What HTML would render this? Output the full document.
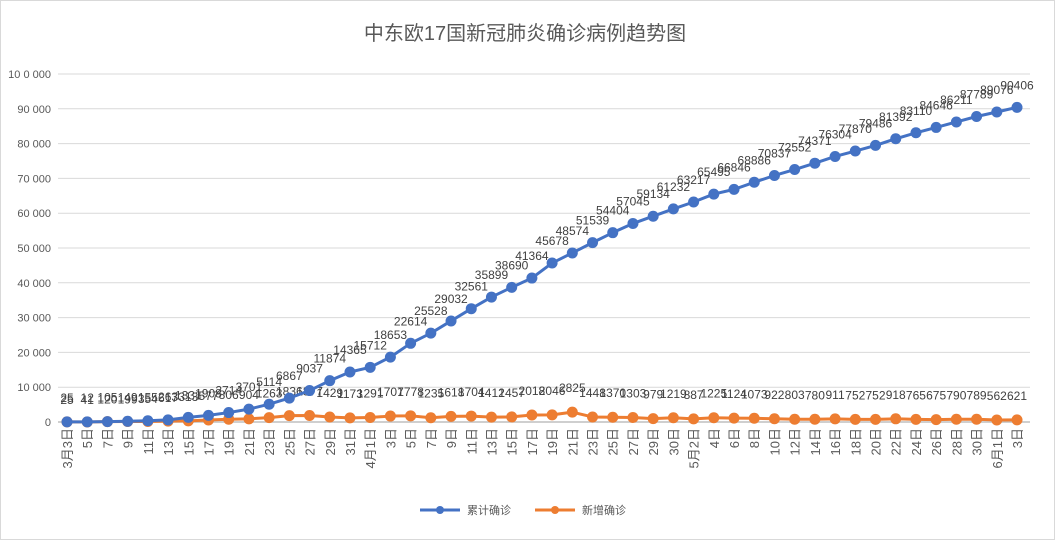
<!DOCTYPE html>
<html><head><meta charset="utf-8"><style>
body{margin:0;background:#fff;}
svg{display:block;font-family:"Liberation Sans","Noto Sans CJK SC",sans-serif;}
</style></head><body>
<svg id="c" width="1056" height="540" viewBox="0 0 1056 540">
<rect x="0.5" y="0.5" width="1054" height="539" fill="#fff" stroke="#d9d9d9"/>
<text x="525" y="40" text-anchor="middle" font-size="20" fill="#595959">中东欧17国新冠肺炎确诊病例趋势图</text>
<g id="grid"></g><g id="ylab"></g><g id="xlab"></g><g id="series"></g>
<g>
<line x1="420" y1="510" x2="460" y2="510" stroke="#4472c4" stroke-width="3"/>
<circle cx="440" cy="510" r="4" fill="#4472c4"/>
<text x="467" y="514" font-size="11" fill="#595959">累计确诊</text>
<line x1="535" y1="510" x2="575" y2="510" stroke="#ed7d31" stroke-width="3"/>
<circle cx="555" cy="510" r="4" fill="#ed7d31"/>
<text x="582" y="514" font-size="11" fill="#595959">新增确诊</text>
</g>
</svg>
<script>
const categories=["3月3日","5日","7日","9日","11日","13日","15日","17日","19日","21日","23日","25日","27日","29日","31日","4月1日","3日","5日","7日","9日","11日","13日","15日","17日","19日","21日","23日","25日","27日","29日","30日","5月2日","4日","6日","8日","10日","12日","14日","16日","18日","20日","22日","24日","26日","28日","30日","6月1日","3日"];
const cumulative=[25,41,120,199,354,617,1331,1908,2714,3701,5114,6867,9037,11874,14365,15712,18653,22614,25528,29032,32561,35899,38690,41364,45678,48574,51539,54404,57045,59134,61232,63217,65495,66846,68886,70837,72552,74371,76304,77870,79486,81392,83110,84646,86211,87789,89076,90406];
const newCases=[25,12,105,149,155,263,313,577,806,904,1263,1836,1877,1429,1173,1291,1707,1778,1235,1618,1704,1412,1457,2018,2046,2825,1448,1370,1303,979,1219,887,1225,1124,1073,922,803,780,911,752,752,918,765,675,790,789,562,621];
const yTicks=[0,10000,20000,30000,40000,50000,60000,70000,80000,90000,100000];
const tickText=["0","10000","20000","30000","40000","50000","60000","70000","80000","90000","10 0000"];
const NS="http://www.w3.org/2000/svg";
const X0=67,X1=1017,Y0=422,Y1=74,GL=58,GR=1030;
function xs(i){return X0+(X1-X0)*i/(categories.length-1);}
function ys(v){return Y0-(Y0-Y1)*v/100000;}
function mk(t,a,p){const e=document.createElementNS(NS,t);for(const k in a)e.setAttribute(k,a[k]);p.appendChild(e);return e;}
const grid=document.getElementById('grid'),ylab=document.getElementById('ylab'),xlab=document.getElementById('xlab'),ser=document.getElementById('series');
yTicks.forEach((v,i)=>{
 const l=mk('line',{x1:GL,x2:GR,y1:ys(v),y2:ys(v),stroke:v===0?'#bfbfbf':'#d9d9d9','stroke-width':v===0?1.5:1},grid);
 
 
 const t=mk('text',{x:51,y:ys(v)+4,'text-anchor':'end','font-size':11,fill:'#595959'},ylab);
 t.textContent=tickText[i].replace(/(\d)(\d{3})$/,'$1 $2');
 
 
});
categories.forEach((c,i)=>{
 const t=mk('text',{x:0,y:0,'text-anchor':'end','font-size':13,fill:'#595959',transform:`translate(${xs(i)+5},${Y0+6}) rotate(-90)`},xlab);
 t.textContent=c;
 
 
});
function drawSeries(vals,color,name,dy){
 const pts=vals.map((v,i)=>xs(i)+','+ys(v)).join(' ');
 const pl=mk('polyline',{points:pts,fill:'none',stroke:color,'stroke-width':3,'stroke-linejoin':'round'},ser);
 
 
 vals.forEach((v,i)=>{
  const c=mk('circle',{cx:xs(i),cy:ys(v),r:5.5,fill:color},ser);
  
  
  const t=mk('text',{x:xs(i),y:ys(v)+dy,'text-anchor':'middle','font-size':12,fill:'#404040'},ser);
  t.textContent=v;
  
  
 });
}
drawSeries(newCases,'#ed7d31','new-cases',-20);
drawSeries(cumulative,'#4472c4','cumulative',-18);
</script>
</body></html>
